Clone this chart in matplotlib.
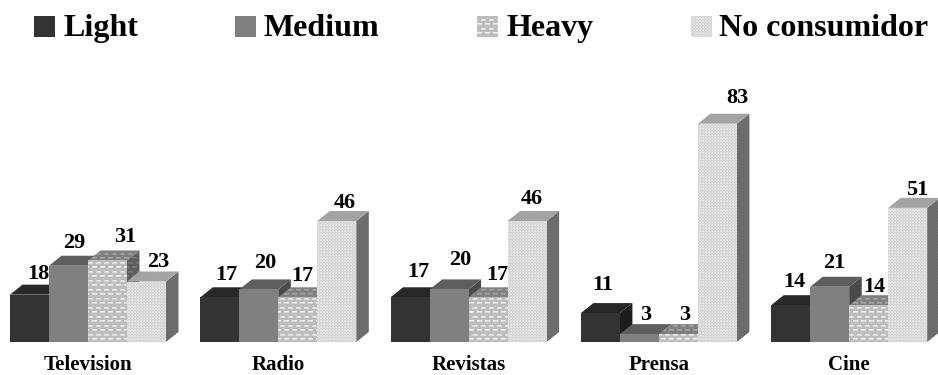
import numpy as np
import matplotlib.pyplot as plt
from matplotlib.patches import Polygon

plt.rcParams['font.family'] = ['Liberation Serif', 'DejaVu Serif']
plt.rcParams['font.weight'] = 'bold'

categories = ['Television', 'Radio', 'Revistas', 'Prensa', 'Cine']
series_names = ['Light', 'Medium', 'Heavy', 'No consumidor']
light = [18, 17, 17, 11, 14]
medium = [29, 20, 20, 3, 21]
heavy = [31, 17, 17, 3, 14]
no_consumer = [23, 46, 46, 83, 51]
series_values = [light, medium, heavy, no_consumer]

# pixel scale of the plot
px_x = 190.3
px_y = 2.63
W, H = 938, 375

# value labels are nudged by hand, in pixels from the bar's top centre (rows are series)
label_dx = [[8.5, 7, 8, 2, 4], [5.5, 6, 11, 6, 5], [17.5, 5, 9, 6, 6], [11.5, 8, 5, 20, 9]]
label_dy = [[15.7, 17.3, 20.3, 23, 18], [17.7, 21.4, 24.4, 14, 18.8],
            [18.5, 16.3, 17.3, 14, 13], [14.5, 13, 17, 20.7, 12.9]]

bar_w = 39 / px_x
depth_x = 12.5 / px_x
depth_y = 10 / px_y

# flat grey levels for the solid series (front, top, side)
solid = {0: (0.20, 0.155, 0.115), 1: (0.50, 0.37, 0.29)}

# repeating cells for the two dotted fills: soft white dashes in a brick layout, fine check
dash_cell = np.full((9, 8), 0.74)
dash_cell[1, 0:5] = 0.93
dash_cell[2, 0:5] = 0.86
dash_cell[1, 0] = dash_cell[1, 4] = 0.84
dash_cell[5, 4:8] = 0.93
dash_cell[5, 0] = 0.93
dash_cell[6, 4:8] = 0.86
dash_cell[6, 0] = 0.86
check_cell = np.array([
    [.91, .82, .88],
    [.82, .89, .83],
    [.88, .83, .86],
])


def tile(cell, shade=1.0, lift=0.0):
    rows = H // cell.shape[0] + 1
    cols = W // cell.shape[1] + 1
    return np.tile(cell, (rows, cols))[:H, :W] * shade + lift


heavy_tex = [tile(dash_cell), tile(dash_cell, 0.72, -0.03), tile(dash_cell, 0.55, -0.04)]
none_tex = [tile(check_cell), tile((check_cell + 1.5) / 2.5, 0.70, -0.02), tile((check_cell + 1.0) / 2, 0.46)]
textures = {2: heavy_tex, 3: none_tex}

fig = plt.figure(figsize=(W / 100, H / 100), dpi=100)
ax = fig.add_axes([0, 0, 1, 1])
xlim = (-10 / px_x, (W - 10) / px_x)
ylim = (-33 / px_y, 342 / px_y)
ax.set_xlim(xlim)
ax.set_ylim(ylim)
ax.axis('off')


def draw_face(points, s, face, z):
    patch = Polygon(points, closed=True, ec='none', zorder=z)
    if s in solid:
        patch.set_facecolor(str(solid[s][face]))
        ax.add_patch(patch)
    else:
        patch.set_facecolor('none')
        ax.add_patch(patch)
        im = ax.imshow(textures[s][face], cmap='gray', vmin=0, vmax=1, aspect='auto',
                       extent=(xlim[0], xlim[1], ylim[0], ylim[1]), origin='upper',
                       interpolation='nearest', zorder=z)
        im.set_clip_path(patch)


for g, name in enumerate(categories):
    for s in range(4):
        v = series_values[s][g]
        x0 = g + s * bar_w
        x1 = x0 + bar_w
        z = s + 1
        # side and top first, the next bar's front then covers the side
        draw_face([(x1, 0), (x1 + depth_x, depth_y), (x1 + depth_x, v + depth_y), (x1, v)], s, 2, z)
        draw_face([(x0, v), (x0 + depth_x, v + depth_y), (x1 + depth_x, v + depth_y), (x1, v)], s, 1, z)
        draw_face([(x0, 0), (x1, 0), (x1, v), (x0, v)], s, 0, z)
        ax.text(x0 + bar_w / 2 + label_dx[s][g] / px_x, v + label_dy[s][g] / px_y, str(v),
                ha='center', va='baseline', fontsize=16, zorder=10)
    ax.text(g + 2 * bar_w, -28 / px_y, name, ha='center', va='baseline', fontsize=15)

# legend along the top
swatch_x = [34, 235, 477, 691]
label_x = [63, 264, 506, 719]
for s, name in enumerate(series_names):
    sx = xlim[0] + swatch_x[s] / px_x
    sw = 21 / px_x
    top = ylim[1] - 16 / px_y
    bot = ylim[1] - 37 / px_y
    draw_face([(sx, bot), (sx + sw, bot), (sx + sw, top), (sx, top)], s, 0, 1)
    ax.text(label_x[s] / W, 1 - 36 / H, name, transform=ax.transAxes, ha='left', va='baseline', fontsize=23)

ax.set_xlim(xlim)
ax.set_ylim(ylim)
fig.savefig('out.png', dpi=100)
